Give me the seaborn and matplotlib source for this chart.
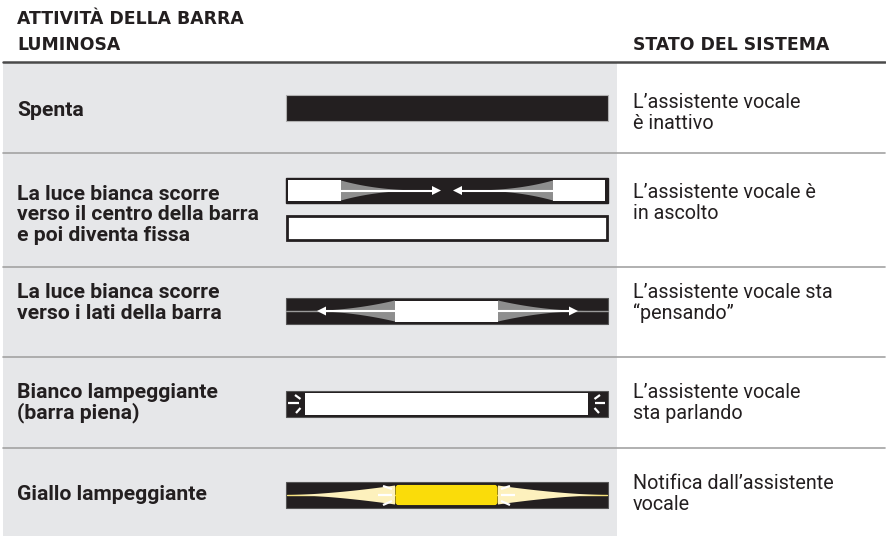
import matplotlib
matplotlib.use("Agg")
import matplotlib.pyplot as plt
import seaborn as sns
import numpy as np
from matplotlib.patches import Rectangle, Polygon, FancyBboxPatch

# ---- data ----
header_left = "ATTIVITÀ DELLA BARRA\nLUMINOSA"
header_right = "STATO DEL SISTEMA"
activities = [
    "Spenta",
    "La luce bianca scorre\nverso il centro della barra\ne poi diventa fissa",
    "La luce bianca scorre\nverso i lati della barra",
    "Bianco lampeggiante\n(barra piena)",
    "Giallo lampeggiante",
]
states = [
    "L\u2019assistente vocale\nè inattivo",
    "L\u2019assistente vocale è\nin ascolto",
    "L\u2019assistente vocale sta\n\u201cpensando\u201d",
    "L\u2019assistente vocale\nsta parlando",
    "Notifica dall\u2019assistente\nvocale",
]
patterns = ["off", "inward", "outward", "flash_white", "flash_yellow"]

# ---- layout (pixel space) ----
W, H = 887, 536
row_edges = [62, 153, 267, 357, 448, 536]
label_y = [111, 215, 303, 403, 494]
state_y = [113, 203, 303, 403, 494]
bar_y = [108, 191, 311, 404, 495]
BX0, BX1 = 286, 608
BH = 26

BLACK = "#231f20"
PANEL = "#e6e7e9"
DIV = "#a3a3a3"
GREY_CONE = "#8e8e8e"
YEL = "#fadc0a"
LYEL = "#fdf1bd"

sns.set_theme(style="white")
plt.rcParams["font.family"] = ["Roboto", "DejaVu Sans"]

fig = plt.figure(figsize=(W / 100, H / 100), dpi=100)
ax = fig.add_axes([0, 0, 1, 1])
ax.set_xlim(0, W)
ax.set_ylim(H, 0)
ax.axis("off")

# panel + rules
ax.add_patch(Rectangle((3, row_edges[0]), 614, H - row_edges[0], color=PANEL, lw=0, zorder=0))
ax.plot([3, 885], [row_edges[0], row_edges[0]], color="#4a4a4a", lw=1.8, zorder=1)
for y in row_edges[1:-1]:
    ax.plot([3, 885], [y, y], color=DIV, lw=1.2, zorder=1)

# headers
hdr = dict(fontsize=12.4, fontweight="bold", color="#231f20", va="center",
           family=["DejaVu Sans"])
ax.text(17, 19.5, header_left.split("\n")[0], **hdr)
ax.text(17, 45, header_left.split("\n")[1], **hdr)
ax.text(633, 45, header_right, **hdr)

for i in range(5):
    ax.text(17, label_y[i], activities[i], fontsize=15.2, fontweight="bold",
            color="#231f20", va="center", linespacing=1.07)
    ax.text(633, state_y[i], states[i], fontsize=14.2, color="#231f20",
            va="center", linespacing=1.12)


def bar(yc, face=BLACK, edge=BLACK, lw=1.0, h=BH, x0=BX0, x1=BX1):
    ax.add_patch(Rectangle((x0, yc - h / 2), x1 - x0, h, facecolor=face,
                           edgecolor=edge, lw=lw, zorder=2))


def cone(x0, x1, yc, h0, color, p=2.0, hmin=0.0):
    xs = np.linspace(x0, x1, 60)
    t = (xs - x0) / (x1 - x0)
    hh = hmin + (h0 - hmin) * (1 - t) ** p
    pts = list(zip(xs, yc - hh)) + list(zip(xs[::-1], (yc + hh)[::-1]))
    ax.add_patch(Polygon(pts, closed=True, facecolor=color, edgecolor="none", zorder=3))


def arrow(x0, x1, yc, color="white"):
    d = 1 if x1 > x0 else -1
    ax.plot([x0, x1 - d * 8], [yc, yc], color=color, lw=1.5, zorder=4, solid_capstyle="butt")
    ax.add_patch(Polygon([(x1, yc), (x1 - d * 9, yc - 4.5), (x1 - d * 9, yc + 4.5)],
                         closed=True, facecolor=color, edgecolor="none", zorder=4))


def seg(p, q, color="white", lw=1.6):
    ax.plot([p[0], q[0]], [p[1], q[1]], color=color, lw=lw, zorder=5, solid_capstyle="butt")


for i, pat in enumerate(patterns):
    yc = bar_y[i]
    if pat == "off":
        bar(yc, edge="#b0b0b0", lw=0.8)
    elif pat == "inward":
        y1 = 190.5
        bar(y1, h=25)
        cone(341, 428, y1, 10, GREY_CONE, p=2.4)
        cone(553, 466, y1, 10, GREY_CONE, p=2.4)
        ax.add_patch(Rectangle((288, y1 - 10.5), 53, 21, facecolor="white", lw=0, zorder=4))
        ax.add_patch(Rectangle((553, y1 - 10.5), 52, 21, facecolor="white", lw=0, zorder=4))
        arrow(341, 441, y1)
        arrow(553, 453, y1)
        y2 = 227.5
        ax.add_patch(Rectangle((BX0 + 1, y2 - 12), BX1 - BX0 - 2, 24, facecolor="white",
                               edgecolor=BLACK, lw=2.0, zorder=2))
    elif pat == "outward":
        bar(yc, edge="#555555", lw=0.8)
        ax.plot([BX0, BX1], [yc, yc], color="#9a9a9a", lw=1.0, zorder=3)
        cone(395, 305, yc, 10.5, GREY_CONE, p=2.0)
        cone(498, 590, yc, 10.5, GREY_CONE, p=2.0)
        ax.add_patch(Rectangle((395, yc - 10.5), 103, 21, facecolor="white", lw=0, zorder=4))
        arrow(395, 317, yc)
        arrow(498, 578, yc)
    elif pat == "flash_white":
        bar(yc, edge="#555555", lw=0.8)
        ax.add_patch(Rectangle((305, yc - 11), 283, 22, facecolor="white", lw=0, zorder=3))
        seg((288.5, yc - 1), (299, yc - 1))
        seg((295, yc - 9), (300.5, yc - 5))
        seg((296, yc + 9), (300.5, yc + 4))
        seg((595, yc - 1), (605, yc - 1))
        seg((600, yc - 9), (594.5, yc - 5))
        seg((599, yc + 9), (594.5, yc + 4))
    elif pat == "flash_yellow":
        bar(yc, edge="#555555", lw=0.8)
        ax.plot([BX0 + 1, BX1 - 1], [yc, yc], color="#f6e27a", lw=1.0, zorder=3)
        cone(395, 288, yc, 9.5, LYEL, p=1.6)
        cone(498, 606, yc, 9.5, LYEL, p=1.6)
        ax.add_patch(FancyBboxPatch((396, yc - 9.5), 101, 19,
                                    boxstyle="round,pad=0,rounding_size=2.5",
                                    facecolor=YEL, edgecolor=YEL, lw=0.8, zorder=4))
        seg((378, yc), (392, yc))
        seg((383, yc - 9), (392, yc - 6))
        seg((383, yc + 10), (392, yc + 6))
        seg((501, yc), (515, yc))
        seg((510, yc - 9), (501, yc - 6))
        seg((510, yc + 10), (501, yc + 6))

fig.savefig("out.png", dpi=100)
